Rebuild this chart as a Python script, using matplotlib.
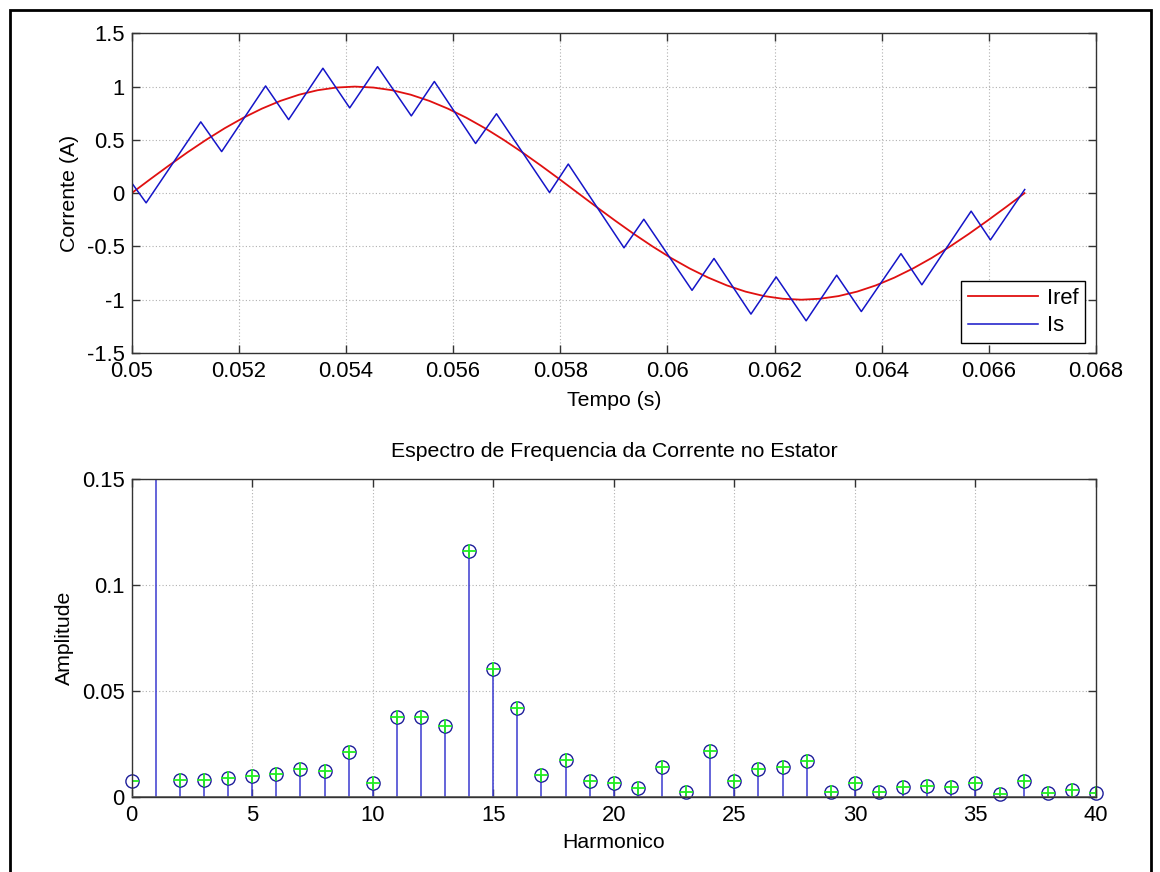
import numpy as np
import matplotlib
matplotlib.use("Agg")
import matplotlib.pyplot as plt
from matplotlib.patches import Rectangle

plt.rcParams['font.family'] = ['Liberation Sans', 'DejaVu Sans']
plt.rcParams['font.size'] = 15

# --- Reference current (one 60 Hz period), sampled every 7.5 degrees ---
iref_t_start = 0.05
iref_t_end = 0.05 + 1.0 / 60.0
iref_vals = [0.000, 0.131, 0.259, 0.383, 0.500, 0.609, 0.707, 0.793, 0.866,
             0.924, 0.966, 0.991, 1.000, 0.991, 0.966, 0.924, 0.866, 0.793,
             0.707, 0.609, 0.500, 0.383, 0.259, 0.131, 0.000, -0.131, -0.259,
             -0.383, -0.500, -0.609, -0.707, -0.793, -0.866, -0.924, -0.966,
             -0.991, -1.000, -0.991, -0.966, -0.924, -0.866, -0.793, -0.707,
             -0.609, -0.500, -0.383, -0.259, -0.131, 0.000]
iref_t = np.linspace(iref_t_start, iref_t_end, len(iref_vals))

# --- Hysteresis-controlled stator current (switching vertices) ---
is_t = [0.05000, 0.05027, 0.05129, 0.05168, 0.05250, 0.05293, 0.05357,
        0.05407, 0.05459, 0.05522, 0.05565, 0.05642, 0.05681, 0.05780,
        0.05815, 0.05919, 0.05956, 0.06046, 0.06087, 0.06156, 0.06203,
        0.06259, 0.06316, 0.06362, 0.06436, 0.06475, 0.06567, 0.06603,
        0.06667]
is_vals = [0.097, -0.091, 0.669, 0.390, 1.006, 0.690, 1.172, 0.800, 1.187,
           0.725, 1.048, 0.466, 0.745, 0.006, 0.273, -0.513, -0.245, -0.912,
           -0.613, -1.135, -0.786, -1.198, -0.770, -1.111, -0.568, -0.860,
           -0.169, -0.439, 0.034]

# --- Harmonic spectrum of the stator current ---
harmonics = list(range(0, 41))
amplitude = [0.0076, 1.0000, 0.0077, 0.0080, 0.0087, 0.0098, 0.0106, 0.0129,
             0.0121, 0.0213, 0.0066, 0.0375, 0.0378, 0.0334, 0.1160, 0.0602,
             0.0421, 0.0101, 0.0172, 0.0074, 0.0066, 0.0041, 0.0141, 0.0022,
             0.0218, 0.0074, 0.0130, 0.0142, 0.0169, 0.0020, 0.0063, 0.0024,
             0.0046, 0.0052, 0.0046, 0.0065, 0.0011, 0.0074, 0.0019, 0.0032,
             0.0016]

top_xticks = [0.05, 0.052, 0.054, 0.056, 0.058, 0.06, 0.062, 0.064, 0.066, 0.068]
top_xlabels = ['0.05', '0.052', '0.054', '0.056', '0.058', '0.06', '0.062',
               '0.064', '0.066', '0.068']
top_yticks = [-1.5, -1, -0.5, 0, 0.5, 1, 1.5]
top_ylabels = ['-1.5', '-1', '-0.5', '0', '0.5', '1', '1.5']
bot_xticks = [0, 5, 10, 15, 20, 25, 30, 35, 40]
bot_yticks = [0, 0.05, 0.1, 0.15]
bot_ylabels = ['0', '0.05', '0.1', '0.15']

TICK_FS = 15.8
LABEL_FS = 15.3

fig = plt.figure(figsize=(11.6, 8.72), dpi=100)
fig.patch.set_facecolor('white')

ax1 = fig.add_axes([0.1135, 0.5952, 0.8313, 0.3666])
ax2 = fig.add_axes([0.1135, 0.0864, 0.8313, 0.3640])


def style_axes(ax):
    ax.tick_params(direction='in', length=6, width=1.0, top=True, right=True,
                   labelsize=TICK_FS, color='#333333')
    ax.tick_params(axis='x', pad=6)
    ax.tick_params(axis='y', pad=5)
    ax.grid(True, linestyle=(0, (1, 2)), color='#b0b0b0', linewidth=0.8)
    ax.set_axisbelow(True)
    for s in ax.spines.values():
        s.set_color('#333333')
        s.set_linewidth(1.0)


# Time-domain plot
ax1.plot(iref_t, iref_vals, color='#e01010', linewidth=1.3, label='Iref')
ax1.plot(is_t, is_vals, color='#1515c8', linewidth=1.1, label='Is')
ax1.set_xlim(0.05, 0.068)
ax1.set_ylim(-1.5, 1.5)
ax1.set_xticks(top_xticks)
ax1.set_xticklabels(top_xlabels)
ax1.set_yticks(top_yticks)
ax1.set_yticklabels(top_ylabels)
ax1.set_xlabel('Tempo (s)', fontsize=LABEL_FS, labelpad=6)
ax1.set_ylabel('Corrente (A)', fontsize=LABEL_FS, labelpad=6)
style_axes(ax1)
leg = ax1.legend(loc='lower right', bbox_to_anchor=(0.9886, 0.031),
                 borderaxespad=0, fancybox=False, framealpha=1,
                 edgecolor='black', fontsize=15.8, handlelength=3.2,
                 handletextpad=0.4, borderpad=0.3, labelspacing=0.3)
leg.get_frame().set_linewidth(1.0)

# Spectrum (stem plot)
markerline, stemlines, baseline = ax2.stem(harmonics, amplitude, basefmt=' ')
plt.setp(stemlines, color='#3a3ad0', linewidth=1.1)
plt.setp(markerline, marker='o', markersize=9.5, markerfacecolor='none',
         markeredgecolor='#1e1e9a', markeredgewidth=1.0)
ax2.plot(harmonics, amplitude, linestyle='none', marker='+', color='#22ee22',
         markersize=10, markeredgewidth=1.3)
ax2.axhline(0, color='#555555', linewidth=1.2, zorder=3)
ax2.set_xlim(0, 40)
ax2.set_ylim(0, 0.15)
ax2.set_xticks(bot_xticks)
ax2.set_yticks(bot_yticks)
ax2.set_yticklabels(bot_ylabels)
ax2.set_xlabel('Harmonico', fontsize=LABEL_FS, labelpad=5)
ax2.set_ylabel('Amplitude', fontsize=LABEL_FS, labelpad=6)
ax2.set_title('Espectro de Frequencia da Corrente no Estator',
              fontsize=LABEL_FS, pad=16)
style_axes(ax2)
markerline.set_clip_on(False)

# Frame around the figure
fig.patches.append(Rectangle((9.5 / 1160, -0.01), (1150.5 - 9.5) / 1160,
                             1 - 10.5 / 872 + 0.01, transform=fig.transFigure,
                             fill=False, edgecolor='black', linewidth=2.0))

fig.savefig('out.png', dpi=100)
